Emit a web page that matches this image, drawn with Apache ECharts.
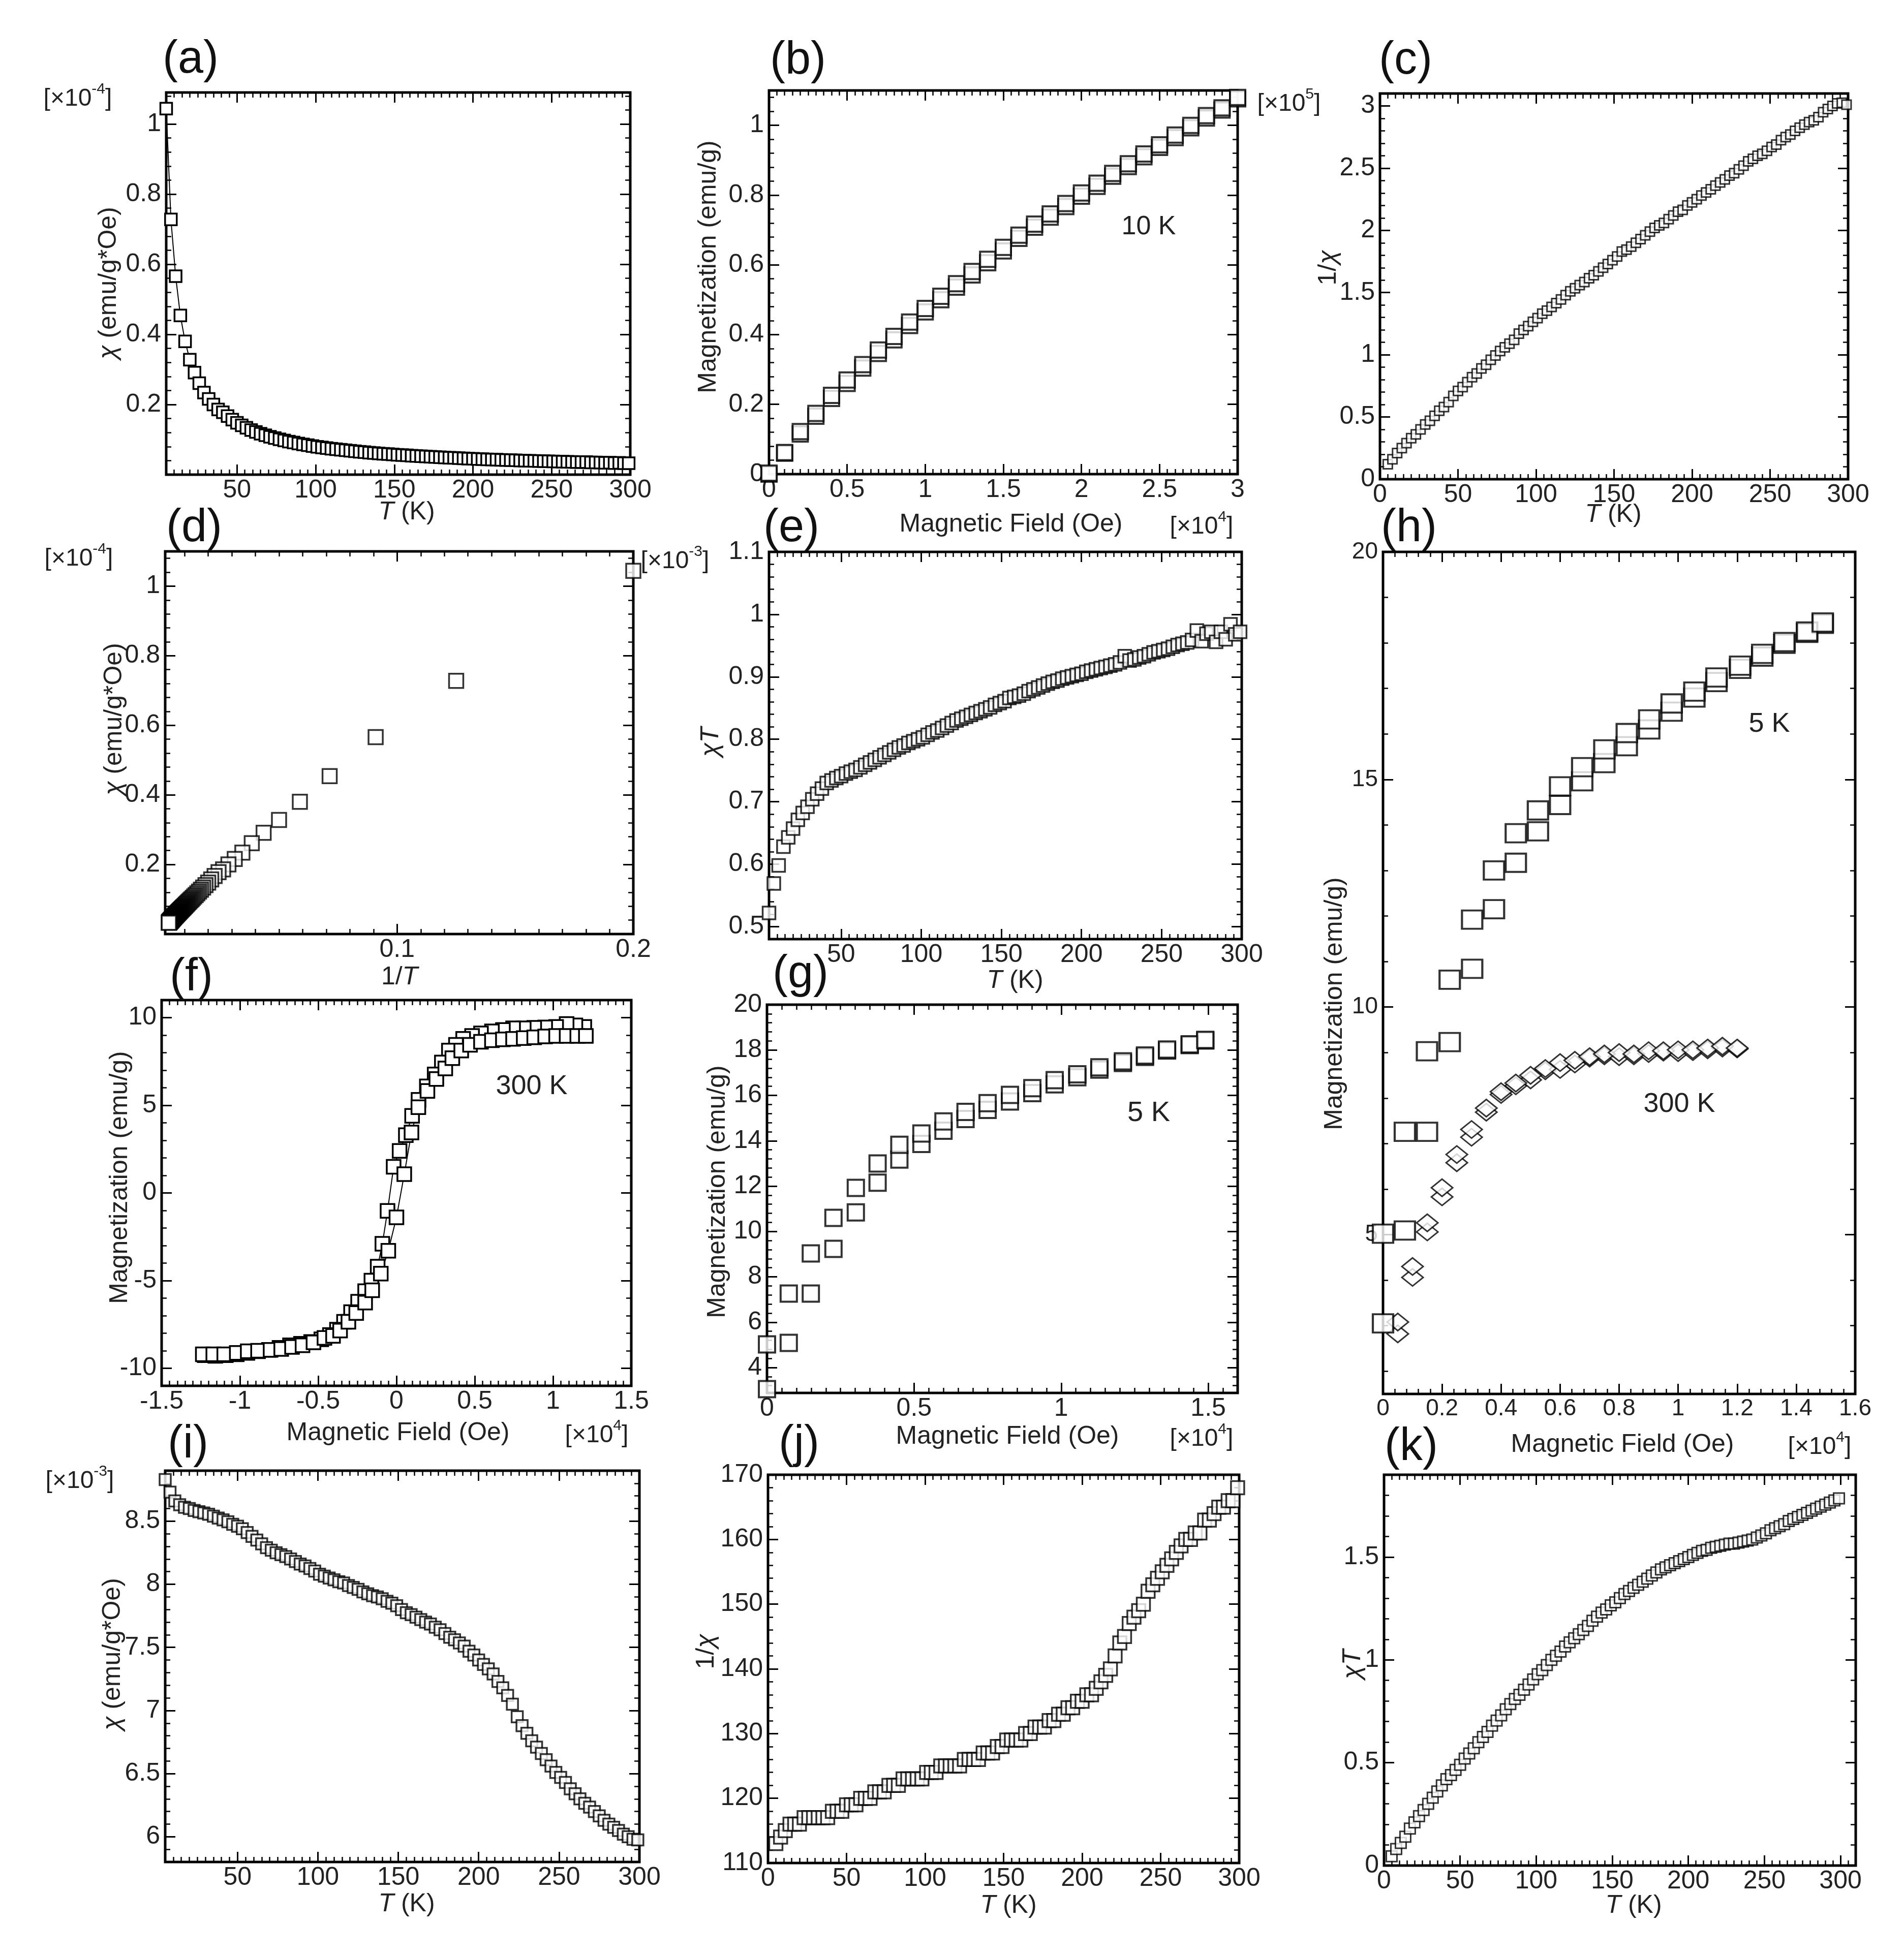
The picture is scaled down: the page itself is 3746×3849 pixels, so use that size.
<!DOCTYPE html>
<html>
<head>
<meta charset="utf-8">
<title>Magnetic measurements</title>
<script src="https://cdn.jsdelivr.net/npm/echarts@6.0.0/dist/echarts.min.js"></script>
<style>
  html, body { margin: 0; padding: 0; background: #fff; }
  #chart { width: 3746px; height: 3849px; }
</style>
</head>
<body>
<div id="chart"></div>
<script>
const FONT = '"Liberation Sans", Arial, Helvetica, sans-serif';
const INK = '#222';

// ---------- data ----------
// temperature steps shared by the chi(T) panels
const tempK = [5, 8, 11, 14, 17, 20, 23, 26, 29, 32, 35, 38, 41, 44, 47, 50, 53, 56, 59, 62,
  65, 68, 71, 74, 77, 80, 83, 86, 89, 92, 95, 98, 101, 104, 107, 110, 113, 116, 119, 122,
  125, 128, 131, 134, 137, 140, 143, 146, 149, 152, 155, 158, 161, 164, 167, 170, 173, 176, 179, 182,
  185, 188, 191, 194, 197, 200, 203, 206, 209, 212, 215, 218, 221, 224, 227, 230, 233, 236, 239, 242,
  245, 248, 251, 254, 257, 260, 263, 266, 269, 272, 275, 278, 281, 284, 287, 290, 293, 296, 299];

// (a),(d) chi  [x1e-4 emu/g*Oe]
const chiA = [1.044, 0.728, 0.566, 0.454, 0.380, 0.328, 0.291, 0.261, 0.234, 0.216,
  0.200, 0.186, 0.178, 0.167, 0.157, 0.148, 0.1406, 0.1336, 0.1273, 0.1218,
  0.1168, 0.1122, 0.1080, 0.1042, 0.1006, 0.0974, 0.0943, 0.0915, 0.0888, 0.0863,
  0.0839, 0.0816, 0.0795, 0.0776, 0.0758, 0.0740, 0.0724, 0.0709, 0.0694, 0.0680,
  0.0666, 0.0653, 0.0640, 0.0628, 0.0617, 0.0606, 0.0595, 0.0586, 0.0576, 0.0566,
  0.0559, 0.0549, 0.0540, 0.0532, 0.0525, 0.0518, 0.0510, 0.0503, 0.0497, 0.0490,
  0.0483, 0.0477, 0.0471, 0.0464, 0.0458, 0.0453, 0.0447, 0.0442, 0.0436, 0.0431,
  0.0426, 0.0421, 0.0416, 0.0412, 0.0411, 0.0403, 0.0398, 0.0394, 0.0390, 0.0387,
  0.0383, 0.0379, 0.0376, 0.0372, 0.0369, 0.0366, 0.0362, 0.0359, 0.0357, 0.0358,
  0.0348, 0.0349, 0.0346, 0.0337, 0.0339, 0.0331, 0.0336, 0.0327, 0.0325];

// (c) 1/chi  [x1e5]
const invChiC = [0.12, 0.16, 0.21, 0.25, 0.29, 0.33, 0.36, 0.40, 0.44, 0.47,
  0.51, 0.55, 0.58, 0.62, 0.67, 0.71, 0.74, 0.78, 0.82, 0.85,
  0.89, 0.92, 0.96, 0.995, 1.03, 1.06, 1.09, 1.12, 1.17, 1.20,
  1.23, 1.265, 1.295, 1.33, 1.355, 1.385, 1.415, 1.445, 1.48, 1.51,
  1.535, 1.56, 1.585, 1.615, 1.64, 1.67, 1.70, 1.73, 1.76, 1.79,
  1.83, 1.845, 1.87, 1.90, 1.93, 1.96, 1.99, 2.02, 2.04, 2.06,
  2.09, 2.12, 2.15, 2.165, 2.20, 2.225, 2.25, 2.28, 2.305, 2.33,
  2.36, 2.385, 2.41, 2.44, 2.46, 2.49, 2.52, 2.555, 2.575, 2.60,
  2.615, 2.64, 2.67, 2.69, 2.725, 2.75, 2.77, 2.80, 2.825, 2.85,
  2.87, 2.885, 2.91, 2.95, 2.975, 3.00, 3.02, 3.025, 3.01];

// (e) chi*T  [x1e-3]
const chiTE = [0.522, 0.569, 0.598, 0.628, 0.643, 0.657, 0.671, 0.682, 0.692, 0.704,
  0.713, 0.721, 0.730, 0.734, 0.738, 0.741, 0.745, 0.748, 0.751, 0.755,
  0.759, 0.763, 0.767, 0.771, 0.775, 0.779, 0.783, 0.787, 0.790, 0.794,
  0.797, 0.800, 0.803, 0.807, 0.811, 0.814, 0.818, 0.822, 0.826, 0.830,
  0.833, 0.836, 0.839, 0.842, 0.845, 0.848, 0.851, 0.855, 0.858, 0.861,
  0.866, 0.868, 0.870, 0.873, 0.877, 0.880, 0.883, 0.886, 0.889, 0.892,
  0.894, 0.897, 0.899, 0.901, 0.903, 0.905, 0.908, 0.910, 0.912, 0.914,
  0.916, 0.918, 0.920, 0.923, 0.933, 0.926, 0.928, 0.931, 0.933, 0.936,
  0.939, 0.941, 0.943, 0.945, 0.948, 0.951, 0.953, 0.955, 0.959, 0.974,
  0.957, 0.969, 0.972, 0.956, 0.972, 0.960, 0.984, 0.968, 0.972];

// (i) chi  [x1e-3]
const chiI = [8.83, 8.73, 8.66, 8.63, 8.61, 8.60, 8.585, 8.575, 8.565, 8.555,
  8.54, 8.525, 8.51, 8.495, 8.475, 8.46, 8.44, 8.41, 8.38, 8.35,
  8.32, 8.29, 8.27, 8.25, 8.235, 8.22, 8.20, 8.18, 8.16, 8.145,
  8.125, 8.105, 8.08, 8.065, 8.05, 8.035, 8.02, 8.01, 7.99, 7.975,
  7.96, 7.94, 7.925, 7.91, 7.90, 7.885, 7.865, 7.85, 7.83, 7.80,
  7.775, 7.76, 7.74, 7.72, 7.70, 7.685, 7.66, 7.64, 7.61, 7.58,
  7.56, 7.535, 7.51, 7.47, 7.44, 7.40, 7.365, 7.33, 7.29, 7.23,
  7.18, 7.12, 7.05, 6.95, 6.88, 6.82, 6.76, 6.71, 6.66, 6.61,
  6.56, 6.51, 6.47, 6.43, 6.38, 6.34, 6.30, 6.265, 6.235, 6.20,
  6.165, 6.13, 6.10, 6.075, 6.05, 6.02, 6.00, 5.98, 5.975];

// (j) 1/chi
const invChiJ = [113, 114, 115, 116, 116, 116, 117, 117, 117, 117,
  117, 117, 118, 118, 118, 119, 119, 119, 120, 120,
  120, 121, 121, 121, 122, 122, 122, 123, 123, 123,
  123, 123, 124, 124, 124, 125, 125, 125, 125, 125,
  126, 126, 126, 126, 127, 127, 127, 128, 128, 129,
  129, 129, 129, 130, 130, 131, 131, 131, 132, 132,
  133, 133, 134, 134, 135, 135, 136, 136, 137, 138,
  139, 140, 142, 144, 145, 147, 148, 149, 150, 152,
  153, 154, 155, 156, 157, 158, 159, 160, 160, 161,
  161, 163, 163, 164, 165, 165, 166, 166, 168];

// (k) chi*T
const chiTK = [0.045, 0.08, 0.11, 0.14, 0.18, 0.21, 0.24, 0.27, 0.30, 0.33,
  0.36, 0.39, 0.42, 0.44, 0.465, 0.49, 0.52, 0.545, 0.57, 0.60,
  0.625, 0.65, 0.68, 0.705, 0.73, 0.76, 0.785, 0.81, 0.83, 0.855,
  0.88, 0.905, 0.93, 0.95, 0.975, 1.0, 1.02, 1.04, 1.065, 1.085,
  1.105, 1.125, 1.145, 1.165, 1.19, 1.21, 1.23, 1.245, 1.265, 1.28,
  1.30, 1.32, 1.335, 1.35, 1.365, 1.38, 1.395, 1.41, 1.425, 1.44,
  1.45, 1.46, 1.47, 1.48, 1.49, 1.50, 1.51, 1.52, 1.53, 1.535,
  1.545, 1.55, 1.555, 1.56, 1.565, 1.565, 1.57, 1.575, 1.58, 1.585,
  1.595, 1.605, 1.615, 1.63, 1.64, 1.65, 1.66, 1.675, 1.685, 1.695,
  1.705, 1.715, 1.725, 1.735, 1.745, 1.755, 1.765, 1.775, 1.785];

// (b) M(H) at 10 K  [field x1e4 Oe, M x1e5]
const bField = [0, 0.1, 0.2, 0.3, 0.4, 0.5, 0.6, 0.7, 0.8, 0.9, 1.0, 1.1, 1.2, 1.3, 1.4, 1.5,
  1.6, 1.7, 1.8, 1.9, 2.0, 2.1, 2.2, 2.3, 2.4, 2.5, 2.6, 2.7, 2.8, 2.9, 3.0];
const bUp = [0, 0.06, 0.115, 0.166, 0.217, 0.26, 0.304, 0.346, 0.385, 0.426, 0.465, 0.5, 0.536,
  0.571, 0.606, 0.64, 0.676, 0.708, 0.737, 0.767, 0.797, 0.825, 0.854, 0.882, 0.91, 0.937,
  0.965, 0.993, 1.021, 1.044, 1.076];
const bDown = [0.003, 0.062, 0.122, 0.174, 0.226, 0.27, 0.314, 0.356, 0.395, 0.436, 0.475, 0.51,
  0.546, 0.581, 0.616, 0.65, 0.685, 0.717, 0.746, 0.776, 0.806, 0.834, 0.862, 0.89, 0.918,
  0.944, 0.972, 1.0, 1.028, 1.05, 1.08];

// (f) loop at 300 K  [field x1e4 Oe]
const fDownH = [1.2, 1.143, 1.087, 1.02, 0.95, 0.88, 0.813, 0.745, 0.68, 0.61, 0.54, 0.483, 0.426,
  0.38, 0.335, 0.29, 0.244, 0.194, 0.141, 0.1, 0.06, 0.02, -0.018, -0.057, -0.09, -0.12, -0.16,
  -0.2, -0.245, -0.29, -0.335, -0.38, -0.425, -0.48, -0.545, -0.61, -0.68, -0.747, -0.815,
  -0.884, -0.952, -1.02, -1.09, -1.157, -1.225];
const fDownM = [9.47, 9.56, 9.64, 9.47, 9.44, 9.42, 9.39, 9.39, 9.3, 9.22, 9.1, 8.96, 8.79,
  8.45, 8.12, 7.44, 6.76, 6.08, 5.31, 4.4, 3.3, 2.4, 1.49, -1.02, -2.9, -4.2, -5.0,
  -5.6, -6.2, -6.8, -7.35, -7.8, -8.1, -8.35, -8.5, -8.6, -8.69, -8.83, -8.95,
  -9.03, -9.12, -9.2, -9.25, -9.29, -9.25];
const fUpH = [-1.237, -1.17, -1.1, -1.02, -0.95, -0.884, -0.804, -0.736, -0.667, -0.6, -0.53,
  -0.46, -0.405, -0.36, -0.307, -0.257, -0.2, -0.155, -0.1, -0.052, 0.0, 0.05, 0.096, 0.14,
  0.198, 0.255, 0.312, 0.357, 0.414, 0.47, 0.54, 0.61, 0.68, 0.745, 0.813, 0.88, 0.95, 1.02,
  1.087, 1.155, 1.21];
const fUpM = [-9.2, -9.2, -9.2, -9.12, -9.03, -9.0, -8.95, -8.9, -8.78, -8.69, -8.52,
  -8.27, -8.15, -7.85, -7.35, -6.85, -6.25, -5.55, -4.6, -3.3, -1.39, 1.07, 3.45, 4.89,
  5.82, 6.5, 7.1, 7.69, 8.12, 8.45, 8.62, 8.71, 8.76, 8.79, 8.83, 8.88, 8.93, 8.96,
  8.96, 8.96, 8.96];

// (g),(h) M(H) at 5 K, two sweeps
const gField = [0, 0.074, 0.149, 0.226, 0.302, 0.376, 0.45, 0.525, 0.6, 0.675, 0.75, 0.826,
  0.902, 0.978, 1.055, 1.13, 1.21, 1.285, 1.36, 1.437, 1.49];
const gA = [3.05, 5.09, 7.26, 9.23, 10.84, 12.15, 13.17, 13.86, 14.44, 14.96, 15.36, 15.73,
  16.1, 16.49, 16.8, 17.14, 17.43, 17.7, 17.98, 18.22, 18.42];
const gB = [5.02, 7.26, 9.03, 10.6, 11.92, 13.0, 13.82, 14.32, 14.85, 15.27, 15.66, 16.02,
  16.32, 16.67, 16.93, 17.24, 17.5, 17.76, 18.02, 18.25, 18.45];

// (h) M(H) at 300 K, two sweeps (diamonds)
const hField = [0.05, 0.1, 0.15, 0.2, 0.25, 0.3, 0.35, 0.4, 0.45, 0.5, 0.55, 0.6, 0.65, 0.7,
  0.75, 0.8, 0.85, 0.9, 0.95, 1.0, 1.05, 1.1, 1.15, 1.2];
const hA = [3.08, 4.3, 5.26, 6.03, 6.76, 7.31, 7.78, 8.14, 8.33, 8.5, 8.65, 8.78, 8.83, 8.91,
  8.97, 9.0, 8.97, 9.04, 9.04, 9.06, 9.06, 9.1, 9.14, 9.1];
const hB = [2.82, 4.06, 5.06, 5.83, 6.58, 7.14, 7.69, 8.08, 8.27, 8.4, 8.6, 8.63, 8.75, 8.88,
  8.93, 8.91, 8.93, 8.98, 9.01, 9.0, 9.02, 9.06, 9.1, 9.08];

// tick labels
const tTicks50 = [50, 100, 150, 200, 250, 300];
const tTicks0 = [0, 50, 100, 150, 200, 250, 300];
const aYTicks = [0.2, 0.4, 0.6, 0.8, 1];
const bXTicks = [0, 0.5, 1, 1.5, 2, 2.5, 3];
const bYTicks = [0, 0.2, 0.4, 0.6, 0.8, 1];
const cYTicks = [0, 0.5, 1, 1.5, 2, 2.5, 3];
const dXTicks = [0.1, 0.2];
const eYTicks = [0.5, 0.6, 0.7, 0.8, 0.9, 1, 1.1];
const fXTicks = [-1.5, -1, -0.5, 0, 0.5, 1, 1.5];
const fYTicks = [-10, -5, 0, 5, 10];
const gXTicks = [0, 0.5, 1, 1.5];
const gYTicks = [4, 6, 8, 10, 12, 14, 16, 18, 20];
const hXTicks = [0, 0.2, 0.4, 0.6, 0.8, 1, 1.2, 1.4, 1.6];
const hYTicks = [5, 10, 15, 20];
const iYTicks = [6, 6.5, 7, 7.5, 8, 8.5];
const jYTicks = [110, 120, 130, 140, 150, 160, 170];
const kYTicks = [0, 0.5, 1, 1.5];

// ---------- builders ----------
const grids = [], xAxes = [], yAxes = [], series = [], graphics = [];

function fmt(v) { return String(parseFloat(Number(v).toFixed(4))); }

function tickList(min, max, step) {
    const out = [];
    let n = Math.ceil(min / step - 1e-6);
    for (let v = n * step; v <= max + 1e-9; n++, v = n * step) {
        out.push(parseFloat(v.toFixed(6)));
    }
    return out;
}

function axis(gi, pos, range, tickVals, len, w, labelVals, dim, fs) {
    return {
        type: 'value', gridIndex: gi, position: pos,
        min: range[0], max: range[1],
        axisLine: { show: false, onZero: false },
        splitLine: { show: false },
        minorTick: { show: false },
        axisPointer: { show: false },
        axisTick: {
            show: true, inside: true, length: len, customValues: tickVals,
            lineStyle: { color: '#000', width: w }
        },
        axisLabel: labelVals ? {
            show: true, customValues: labelVals, formatter: fmt,
            fontFamily: FONT, fontSize: fs, color: INK,
            margin: dim === 'x' ? 6 : 10
        } : { show: false }
    };
}

function addAxes(list, dim, gi, range, ticks, minor, fs) {
    const first = list.length;
    const sides = dim === 'x' ? ['bottom', 'top'] : ['left', 'right'];
    const minorVals = tickList(range[0], range[1], minor);
    sides.forEach(function (pos, k) {
        list.push(axis(gi, pos, range, ticks, 20, 3, k === 0 ? ticks : null, dim, fs));
        list.push(axis(gi, pos, range, minorVals, 10, 2.5, null, dim, fs));
    });
    return first;
}

// box = [left, top, right, bottom] of the framed plot area
function panel(box, xr, yr, xTicks, yTicks, xMinor, yMinor, fs) {
    const gi = grids.length;
    grids.push({
        left: box[0], top: box[1], width: box[2] - box[0], height: box[3] - box[1],
        show: true, borderColor: '#000', borderWidth: 5, backgroundColor: 'transparent',
        containLabel: false, outerBoundsMode: 'none'
    });
    return {
        xi: addAxes(xAxes, 'x', gi, xr, xTicks, xMinor, fs || 50),
        yi: addAxes(yAxes, 'y', gi, yr, yTicks, yMinor, fs || 50)
    };
}

function zip(xs, ys) { return xs.map(function (x, i) { return [x, ys[i]]; }); }

function marks(p, data, size, opts) {
    opts = opts || {};
    series.push({
        type: opts.line ? 'line' : 'scatter',
        xAxisIndex: p.xi, yAxisIndex: p.yi,
        data: data,
        symbol: opts.symbol || 'rect',
        symbolSize: size,
        showSymbol: true,
        clip: false, silent: true,
        itemStyle: { color: '#fff', borderColor: '#000', borderWidth: opts.bw || 3.5 },
        lineStyle: { color: '#000', width: 2 },
        emphasis: { disabled: true },
        z: 3
    });
}

function txt(x, y, text, size, o) {
    o = o || {};
    const col = o.color || INK;
    const base = { fontSize: size, fontFamily: FONT, fill: col, color: col };
    const sup = Math.round(size * 0.62);
    graphics.push({
        type: 'text', x: x, y: y, rotation: o.rot || 0, z: 20, silent: true,
        style: Object.assign({}, base, {
            text: text,
            align: o.align || 'center', verticalAlign: 'middle',
            textAlign: o.align || 'center', textVerticalAlign: 'middle',
            rich: {
                i: Object.assign({}, base, { fontStyle: 'italic' }),
                n: Object.assign({}, base, { lineHeight: size + 10, verticalAlign: 'bottom' }),
                s: Object.assign({}, base, { fontSize: sup, lineHeight: sup, verticalAlign: 'top' })
            }
        })
    });
}

// ---------- panels ----------
const pa = panel([327, 182, 1240, 934], [5, 300], [0, 1.09], tTicks50, aYTicks, 5, 0.04);
marks(pa, zip(tempK, chiA), 23, { line: true });

const pb = panel([1513, 178, 2435, 933], [0, 3], [0, 1.1], bXTicks, bYTicks, 0.05, 0.04);
marks(pb, zip(bField, bUp), 30, { bw: 4 });
marks(pb, zip(bField, bDown), 30, { bw: 4 });

const pc = panel([2715, 184, 3636, 943], [0, 300], [0, 3.1], tTicks0, cYTicks, 5, 0.1);
marks(pc, zip(tempK, invChiC), 18, { bw: 3 });

const pd = panel([325, 1085, 1246, 1838], [0.0018, 0.2], [0, 1.1], dXTicks, aYTicks, 0.01, 0.04);
marks(pd, zip(tempK.map(function (t) { return 1 / t; }), chiA), 28);

const pe = panel([1513, 1086, 2443, 1848], [5, 300], [0.48, 1.1], tTicks50, eYTicks, 5, 0.02);
marks(pe, zip(tempK, chiTE), 25);

const ph = panel([2721, 1086, 3650, 2743], [0, 1.6], [1.5, 20], hXTicks, hYTicks, 0.04, 1, 46);
marks(ph, zip(hField, hB), [42, 34], { symbol: 'diamond', bw: 3 });
marks(ph, zip(hField, hA), [42, 34], { symbol: 'diamond', bw: 3 });
marks(ph, zip(gField, gA), [40, 36], { bw: 4 });
marks(ph, zip(gField, gB), [40, 36], { bw: 4 });

const pf = panel([318, 1968, 1242, 2727], [-1.5, 1.5], [-11, 11], fXTicks, fYTicks, 0.05, 1);
marks(pf, zip(fDownH, fDownM), 27, { line: true });
marks(pf, zip(fUpH, fUpM), 27, { line: true });

const pg = panel([1509, 1977, 2435, 2741], [0, 1.6], [2.88, 20], gXTicks, gYTicks, 0.05, 0.4);
marks(pg, zip(gField, gA), 32, { bw: 4 });
marks(pg, zip(gField, gB), 32, { bw: 4 });

const pi = panel([325, 2894, 1258, 3664], [5, 300], [5.8, 8.9], tTicks50, iYTicks, 5, 0.1);
marks(pi, zip(tempK, chiI), 22);

const pj = panel([1511, 2902, 2438, 3666], [0, 300], [110, 170], tTicks0, jYTicks, 5, 2);
marks(pj, zip(tempK, invChiJ), 26);

const pk = panel([2723, 2902, 3651, 3671], [0, 310], [0, 1.9], tTicks0, kYTicks, 5, 0.1);
marks(pk, zip(tempK, chiTK), 21, { bw: 3 });

// ---------- texts ----------
[['(a)', 320, 118], ['(b)', 1515, 120], ['(c)', 2713, 120], ['(d)', 327, 1040],
 ['(e)', 1502, 1040], ['(h)', 2717, 1040], ['(f)', 334, 1924], ['(g)', 1520, 1918],
 ['(i)', 330, 2843], ['(j)', 1532, 2843], ['(k)', 2724, 2848]].forEach(function (l) {
    txt(l[1], l[2], l[0], 90, { align: 'left', color: '#111' });
});

const V = Math.PI / 2;
// x titles
[[800, 1008], [3174, 1013], [1997, 1930], [800, 3747], [1984, 3750], [3214, 3750]].forEach(function (p) {
    txt(p[0], p[1], '{i|T} (K)', 50);
});
txt(786, 1923, '1/{i|T}', 50);
[[1989, 1032], [783, 2820], [1982, 2827], [3192, 2843]].forEach(function (p) {
    txt(p[0], p[1], 'Magnetic Field (Oe)', 50);
});
[[2364, 1032], [1174, 2820], [2364, 2827], [3580, 2843]].forEach(function (p) {
    txt(p[0], p[1], '{n|[×10}{s|4}{n|]}', 48);
});

// y titles
[[214, 557], [225, 1415], [222, 3255]].forEach(function (p) {
    txt(p[0], p[1], '{i|χ} (emu/g*Oe)', 50, { rot: V });
});
[[1394, 525], [236, 2317], [1412, 2345], [2626, 1975]].forEach(function (p) {
    txt(p[0], p[1], 'Magnetization (emu/g)', 50, { rot: V });
});
txt(2614, 527, '1/{i|χ}', 50, { rot: V });
txt(1390, 3250, '1/{i|χ}', 50, { rot: V });
txt(1399, 1460, '{i|χT}', 50, { rot: V });
txt(2662, 3275, '{i|χT}', 50, { rot: V });

// axis multipliers
txt(153, 190, '{n|[×10}{s|-4}{n|]}', 48);
txt(155, 1095, '{n|[×10}{s|-4}{n|]}', 48);
txt(1328, 1100, '{n|[×10}{s|-3}{n|]}', 48);
txt(157, 2910, '{n|[×10}{s|-3}{n|]}', 48);
txt(2536, 200, '{n|[×10}{s|5}{n|]}', 48);

// annotations
txt(2260, 447, '10 K', 52);
txt(1046, 2138, '300 K', 54);
txt(2260, 2191, '5 K', 56);
txt(3481, 1425, '5 K', 54);
txt(3304, 2173, '300 K', 54);

const chart = echarts.init(document.getElementById('chart'), null, { renderer: 'canvas' });
chart.setOption({
    animation: false,
    backgroundColor: '#fff',
    grid: grids,
    xAxis: xAxes,
    yAxis: yAxes,
    series: series,
    graphic: { elements: graphics }
});
</script>
</body>
</html>
